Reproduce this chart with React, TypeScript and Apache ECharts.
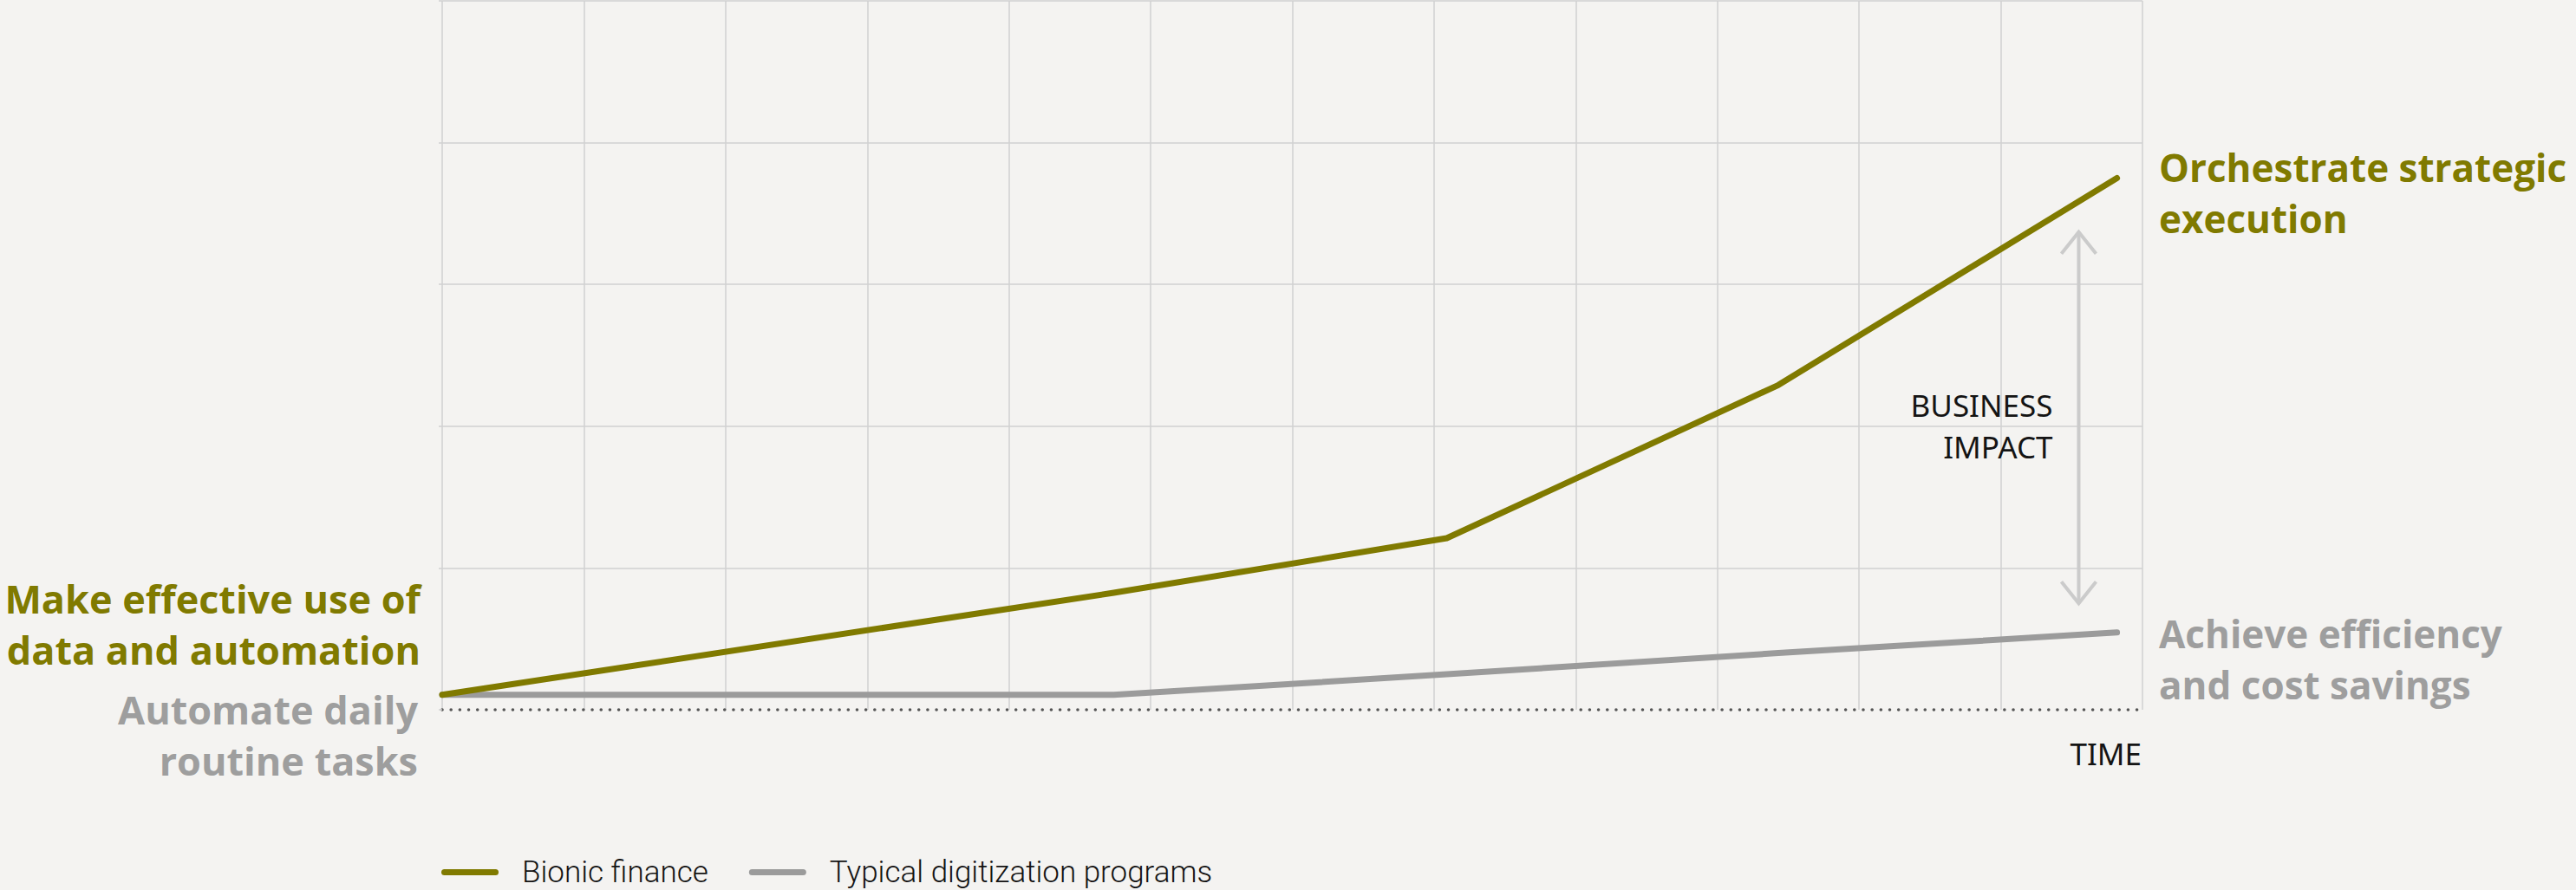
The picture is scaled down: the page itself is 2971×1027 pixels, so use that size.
import { useEffect, useRef } from "react";
import * as echarts from "echarts";

const OLIVE = "#807a00";
const GREY_LINE = "#9b9b9b";
const GREY_TEXT = "#9e9e9e";
const GRID = "#d0d0d0";
const BG = "#f4f3f1";
const INK = "#141414";

// Positions along the time axis (in grid columns) where the curves bend
const timeSteps = [0, 4.74, 7.09, 9.43, 11.82];
// Level reached at each step (in grid rows)
const bionicFinance = [0.105, 0.825, 1.21, 2.29, 3.75];
const typicalDigitization = [0.105, 0.105, 0.25, 0.4, 0.545];

const seriesNames = ["Bionic finance", "Typical digitization programs"];

// Double arrow between the two outcomes: x, lower end, upper end, label level
const impactArrow = [11.55, 0.75, 3.37, 2.0];
const impactLabel = "BUSINESS\nIMPACT";

const startLabels = [
  "Make effective use of\ndata and automation",
  "Automate daily\nroutine tasks",
];
const endLabels = [
  "Orchestrate strategic\nexecution",
  "Achieve efficiency\nand cost savings",
];
const timeAxisName = "TIME";

function outcomeText(x: number, y: number, text: string, fill: string, align: string, size: number) {
  return {
    type: "text",
    x,
    y,
    silent: true,
    style: {
      text,
      fill,
      font: `bold ${size}px "Open Sans", "Noto Sans", sans-serif`,
      align,
      textAlign: align,
      verticalAlign: "middle",
      textVerticalAlign: "middle",
      lineHeight: 59,
    },
  };
}

export default function App() {
  const ref = useRef<HTMLDivElement>(null);

  useEffect(() => {
    document.body.style.margin = "0";
    document.body.style.background = BG;
    const chart = echarts.init(ref.current!, null, { renderer: "svg" });

    const arrowStyle = { stroke: "#cbcbcb", lineWidth: 4, fill: "none", lineJoin: "miter" };

    chart.setOption({
      animation: false,
      backgroundColor: BG,
      grid: { left: 510, top: 1, width: 1961, height: 818 },
      legend: {
        data: seriesNames,
        left: 509,
        top: 989,
        padding: 0,
        itemGap: 47,
        itemWidth: 66,
        itemHeight: 7,
        icon: "path://M3.5,0H62.5A3.5,3.5,0,0,1,62.5,7H3.5A3.5,3.5,0,0,1,3.5,0Z",
        selectedMode: false,
        textStyle: {
          color: INK,
          fontSize: 35,
          fontWeight: 300,
          fontFamily: "Roboto",
          lineHeight: 26,
          padding: [0, 0, 6, 22],
        },
      },
      xAxis: {
        type: "value",
        min: 0,
        max: 12,
        interval: 1,
        axisLine: {
          show: true,
          onZero: false,
          lineStyle: { color: "#555555", width: 3.6, type: [0.01, 10.17], cap: "round" },
        },
        axisTick: { show: false },
        axisLabel: { show: false },
        splitLine: { show: true, lineStyle: { color: GRID, width: 1.5 } },
        name: timeAxisName,
        nameLocation: "end",
        nameGap: -1,
        nameTextStyle: {
          color: INK,
          fontSize: 35,
          fontFamily: '"Noto Sans"',
          align: "right",
          verticalAlign: "top",
          lineHeight: 35,
          padding: [33, 0, 0, 0],
        },
      },
      yAxis: {
        type: "value",
        min: 0,
        max: 5,
        interval: 1,
        axisLine: { show: false },
        axisLabel: { show: false },
        axisTick: { show: true, length: 4, lineStyle: { color: GRID, width: 1.5 } },
        splitLine: { show: true, showMinLine: false, lineStyle: { color: GRID, width: 1.5 } },
      },
      series: [
        {
          name: seriesNames[0],
          type: "line",
          data: timeSteps.map((x, i) => [x, bionicFinance[i]]),
          showSymbol: false,
          symbol: "none",
          color: OLIVE,
          lineStyle: { color: OLIVE, width: 7, cap: "round", join: "round" },
          z: 4,
          silent: true,
        },
        {
          name: seriesNames[1],
          type: "line",
          data: timeSteps.map((x, i) => [x, typicalDigitization[i]]),
          showSymbol: false,
          symbol: "none",
          color: GREY_LINE,
          lineStyle: { color: GREY_LINE, width: 7, cap: "round", join: "round" },
          z: 3,
          silent: true,
        },
        {
          type: "custom",
          data: [impactArrow],
          encode: { x: 0, y: [1, 2] },
          silent: true,
          z: 2,
          renderItem: (_params: any, api: any) => {
            const x = api.value(0);
            const lo = api.coord([x, api.value(1)]);
            const hi = api.coord([x, api.value(2)]);
            const mid = api.coord([x, api.value(3)]);
            return {
              type: "group",
              children: [
                {
                  type: "line",
                  shape: { x1: hi[0], y1: hi[1], x2: lo[0], y2: lo[1] },
                  style: arrowStyle,
                },
                {
                  type: "polyline",
                  shape: { points: [[hi[0] - 20, hi[1] + 25], [hi[0], hi[1]], [hi[0] + 20, hi[1] + 25]] },
                  style: arrowStyle,
                },
                {
                  type: "polyline",
                  shape: { points: [[lo[0] - 20, lo[1] - 25], [lo[0], lo[1]], [lo[0] + 20, lo[1] - 25]] },
                  style: arrowStyle,
                },
                {
                  type: "text",
                  x: mid[0] - 30,
                  y: mid[1],
                  style: {
                    text: impactLabel,
                    fill: INK,
                    font: '35px "Noto Sans"',
                    align: "right",
                    verticalAlign: "middle",
                    lineHeight: 48,
                  },
                },
              ],
            };
          },
        },
      ],
      graphic: [
        outcomeText(485, 719.5, startLabels[0], OLIVE, "right", 45),
        outcomeText(482, 848, startLabels[1], GREY_TEXT, "right", 45),
        outcomeText(2490, 222.7, endLabels[0], OLIVE, "left", 44),
        outcomeText(2490, 760, endLabels[1], GREY_TEXT, "left", 44),
      ],
    });

    return () => chart.dispose();
  }, []);

  return <div ref={ref} style={{ width: 2971, height: 1027 }} />;
}
